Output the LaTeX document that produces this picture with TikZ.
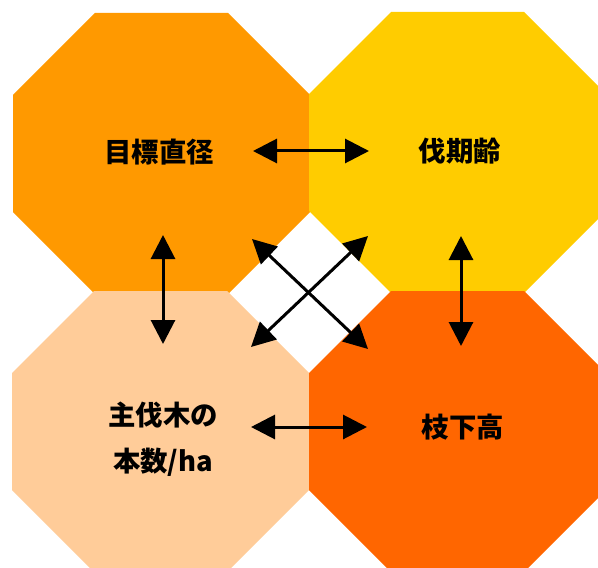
\documentclass[tikz,border=0pt]{standalone}
\usepackage{fontspec}
\newfontfamily\jpfont{Noto Sans CJK JP}
\usetikzlibrary{arrows.meta}
\definecolor{cTL}{HTML}{FF9900}
\definecolor{cTR}{HTML}{FFCC00}
\definecolor{cBL}{HTML}{FFCC99}
\definecolor{cBR}{HTML}{FF6600}
\tikzset{
  octpath/.style={draw=none},
  lbl/.style={font=\jpfont\bfseries\fontsize{27.5}{46}\selectfont, align=center, inner sep=0pt, text=black},
  dbl/.style={line width=3bp, {Triangle[length=24bp,width=24bp]}-{Triangle[length=24bp,width=24bp]}, shorten <=0pt, shorten >=0pt}
}
\begin{document}
\begin{tikzpicture}[x=1bp,y=-1bp]
\useasboundingbox (0,0) rectangle (598,568);
\clip (0,0) rectangle (598,568);
% octagons
\fill[cTL] (95,13) -- ++(133,0) -- ++(82,82) -- ++(0,117) -- ++(-82,82) -- ++(-133,0) -- ++(-82,-82) -- ++(0,-117) -- cycle;
\fill[cTR] (391,12) -- ++(133,0) -- ++(82,82) -- ++(0,117) -- ++(-82,82) -- ++(-133,0) -- ++(-82,-82) -- ++(0,-117) -- cycle;
\fill[cBL] (94,291) -- ++(133,0) -- ++(82,82) -- ++(0,117) -- ++(-82,82) -- ++(-133,0) -- ++(-82,-82) -- ++(0,-117) -- cycle;
\fill[cBR] (391,291) -- ++(133,0) -- ++(82,82) -- ++(0,117) -- ++(-82,82) -- ++(-133,0) -- ++(-82,-82) -- ++(0,-117) -- cycle;
% labels
\node[lbl] (dia) at (159,152) {目標直径};
\node[lbl] (age) at (460,151) {伐期齢};
\node[lbl] (num) at (163,439) {主伐木の\\本数/ha};
\node[lbl] (hgt) at (463,427) {枝下高};
% arrow end points
\coordinate (a1) at (253,151);
\coordinate (a2) at (369,151);
\coordinate (b1) at (251,427);
\coordinate (b2) at (367,427);
\coordinate (c1) at (163,235);
\coordinate (c2) at (163,344);
\coordinate (d1) at (461,236);
\coordinate (d2) at (461,346);
\coordinate (e1) at (252,239);
\coordinate (e2) at (368,349);
\coordinate (f1) at (368,236);
\coordinate (f2) at (251,347);
% arrows
\draw[dbl] (a1) -- (a2);
\draw[dbl] (b1) -- (b2);
\draw[dbl] (c1) -- (c2);
\draw[dbl] (d1) -- (d2);
\draw[dbl] (e1) -- (e2);
\draw[dbl] (f1) -- (f2);
\end{tikzpicture}
\end{document}
